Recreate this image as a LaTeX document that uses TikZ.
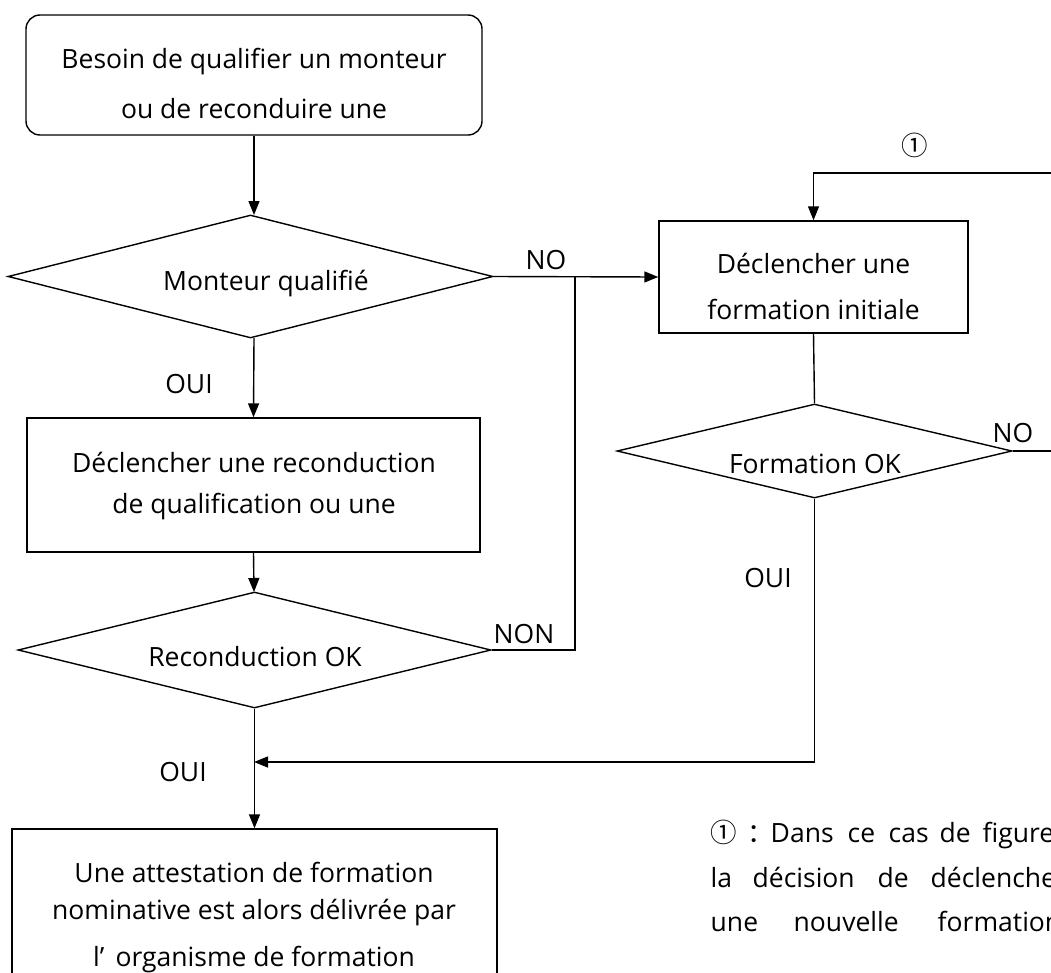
\documentclass[tikz,border=0pt]{standalone}
\usepackage{fontspec}
\setmainfont{Open Sans}
\newfontfamily\cjk{Noto Sans CJK SC}
\usetikzlibrary{shapes.geometric,arrows.meta}
\begin{document}
\begin{tikzpicture}[x=1pt,y=-1pt,
  line width=1.4pt,
  every node/.style={font=\fontsize{26.5}{26.5}\selectfont, inner sep=0pt},
  box/.style={draw, rectangle, minimum width=#1},
  rbox/.style={draw, rectangle, rounded corners=14pt},
  dia/.style={draw, diamond, inner sep=0pt},
  arr/.style={-{Triangle[length=14pt,width=11pt]}}
]
\useasboundingbox (0,0) rectangle (1051,972);
\clip (0,0) rectangle (1051,972);
% shapes
\node[rbox, minimum width=456pt, minimum height=120pt] (start) at (254,75) {};
\node[dia, minimum width=485pt, minimum height=123pt] (d1) at (250.5,276.5) {};
\node[box=453pt, minimum height=134pt] (recb) at (253.5,485) {};
\node[dia, minimum width=473pt, minimum height=116pt] (d2) at (254.5,650) {};
\node[box=485pt, minimum height=200pt] (att) at (254.5,929) {};
\node[box=309pt, minimum height=112pt] (init) at (813.5,277) {};
\node[dia, minimum width=395pt, minimum height=94pt] (d3) at (814.5,451) {};
% texts
\node (t1) at (254,62) {Besoin de qualifier un monteur};
\node (t2) at (254,109) {ou de reconduire une};
\node (t3) at (266,284) {Monteur qualifié};
\node (t4) at (254,462) {Déclencher une reconduction};
\node (t5) at (254,507) {de qualification ou une};
\node (t6) at (255,657) {Reconduction OK};
\node (t7) at (254,872) {Une attestation de formation};
\node (t8) at (254,913) {nominative est alors délivrée par};
\node (t9) at (254,960) {l'\,\ organisme de formation};
\node (t10) at (813.5,263) {Déclencher une};
\node (t11) at (813.5,309) {formation initiale};
\node (t12) at (815,464) {Formation OK};
% labels
\node (l1) at (546,260) {NO};
\node (l2) at (524,634) {NON};
\node (l3) at (189,384) {OUI};
\node (l4) at (768,578) {OUI};
\node (l5) at (183,772) {OUI};
\node (l6) at (1013,433) {NO};
\node (l7) at (915,145) {\cjk ①};
% footnote
\node[anchor=base west] (f1) at (710,842) {\rlap{\cjk ①}\hspace{37pt}\rlap{\cjk ：}\hspace{23pt}\rlap{Dans}\hspace{77pt}\rlap{ce}\hspace{41pt}\rlap{cas}\hspace{51pt}\rlap{de}\hspace{43pt}figure};
\node[anchor=base west] (f2) at (710,887) {\rlap{la}\hspace{42pt}\rlap{décision}\hspace{125pt}\rlap{de}\hspace{53pt}déclencher};
\node[anchor=base west] (f3) at (710,931) {\rlap{une}\hspace{83pt}\rlap{nouvelle}\hspace{144pt}formation};
% connectors
\coordinate (j1) at (575,276.5);
\coordinate (loopR) at (1051,173);
\coordinate (noR) at (1051,451);
\coordinate (m) at (254,762);
\draw[arr] (start.south -| 254,0) -- (254,215);
\draw[arr] (254,338) -- (recb.north);
\draw[arr] (recb.south) -- (254,592);
\draw[arr] (d2.south) -- (att.north);
\draw[arr] (d1.east) -- (init.west);
\draw (j1) |- (d2.east);
\draw[arr] (loopR) -| (init.north);
\draw (init.south) -- (d3.north);
\draw (d3.east) -- (noR);
\draw[arr] (d3.south) |- (m);
\end{tikzpicture}
\end{document}
